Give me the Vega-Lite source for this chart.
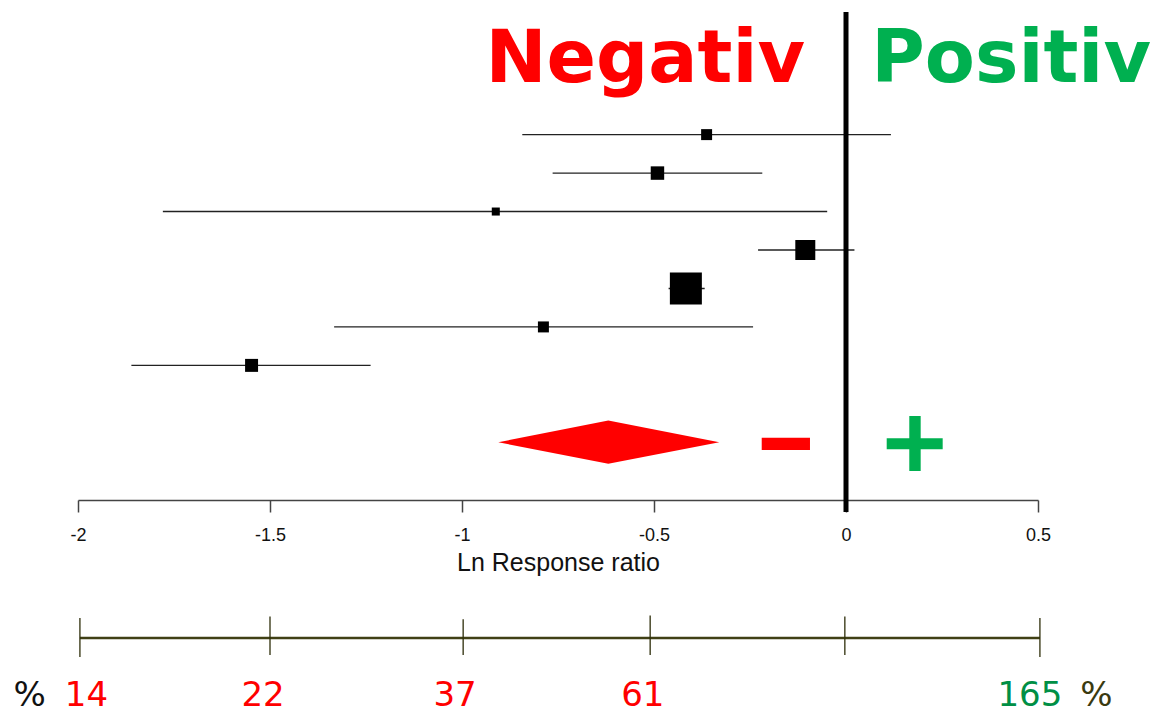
{
  "$schema": "https://vega.github.io/schema/vega-lite/v6.json",
  "autosize": "none",
  "width": 960,
  "height": 500,
  "padding": {"left": 78, "top": 0, "right": 125, "bottom": 221},
  "background": "white",
  "config": {
    "view": {"stroke": null},
    "axisX": {
      "domainColor": "#444444", "domainWidth": 1.5, "tickColor": "#444444", "tickWidth": 1.5,
      "tickSize": 12, "grid": false, "labelFont": "Liberation Sans", "labelFontSize": 18,
      "labelColor": "#111111", "labelPadding": 14, "labelFlush": false, "labelOverlap": false,
      "titleFont": "Liberation Sans", "titleFontSize": 25, "titleFontWeight": "normal",
      "titleColor": "#111111", "titleBaseline": "alphabetic", "titleY": 70
    }
  },
  "resolve": {"scale": {"color": "independent"}},
  "datasets": {
    "studies": [
      {"study": 1, "lnrr": -0.363, "lo": -0.843, "hi": 0.117, "weight": 5.8},
      {"study": 2, "lnrr": -0.491, "lo": -0.764, "hi": -0.218, "weight": 8.7},
      {"study": 3, "lnrr": -0.912, "lo": -1.779, "hi": -0.049, "weight": 3.1},
      {"study": 4, "lnrr": -0.106, "lo": -0.229, "hi": 0.022, "weight": 19.2},
      {"study": 5, "lnrr": -0.417, "lo": -0.462, "hi": -0.368, "weight": 49.2},
      {"study": 6, "lnrr": -0.788, "lo": -1.333, "hi": -0.242, "weight": 5.8},
      {"study": 7, "lnrr": -1.548, "lo": -1.861, "hi": -1.238, "weight": 8.1}
    ],
    "summary": [
      {"lnrr": -0.9055, "ylo": 9, "yhi": 9},
      {"lnrr": -0.619, "ylo": 8.43, "yhi": 9.56},
      {"lnrr": -0.33, "ylo": 9, "yhi": 9}
    ],
    "nullline": [{"lnrr": 0, "ytop": -2.188, "ybot": 10.812}],
    "signs": [
      {"sign": "minus", "x1": -0.2195, "x2": -0.0938, "y1": 8.88, "y2": 9.2},
      {"sign": "plus", "x1": 0.106, "x2": 0.2518, "y1": 8.896, "y2": 9.182},
      {"sign": "plus", "x1": 0.1648, "x2": 0.1945, "y1": 8.316, "y2": 9.746}
    ],
    "headings": [
      {"label": "Negativ", "side": "neg", "x": -0.939, "row": -0.368},
      {"label": "Positiv", "side": "pos", "x": 0.066, "row": -0.368}
    ],
    "pctline": [{"x1": -1.995, "x2": 0.505, "row": 14.09}],
    "pctticks": [
      {"x": -1.995, "top": 13.57, "bot": 14.58},
      {"x": -1.5, "top": 13.53, "bot": 14.53},
      {"x": -0.997, "top": 13.6, "bot": 14.53},
      {"x": -0.51, "top": 13.5, "bot": 14.53},
      {"x": -0.003, "top": 13.53, "bot": 14.53},
      {"x": 0.505, "top": 13.57, "bot": 14.58}
    ],
    "pctlabels": [
      {"label": "%", "kind": "unitL", "x": -2.126, "row": 15.85},
      {"label": "14", "kind": "neg", "x": -1.978, "row": 15.85},
      {"label": "22", "kind": "neg", "x": -1.518, "row": 15.85},
      {"label": "37", "kind": "neg", "x": -1.018, "row": 15.85},
      {"label": "61", "kind": "neg", "x": -0.529, "row": 15.85},
      {"label": "165", "kind": "pos", "x": 0.479, "row": 15.85},
      {"label": "%", "kind": "unitR", "x": 0.652, "row": 15.85}
    ]
  },
  "layer": [
    {
      "data": {"name": "studies"},
      "mark": {"type": "rule", "color": "#222222", "strokeWidth": 1.4},
      "encoding": {
        "x": {"field": "lo", "type": "quantitative", "title": "Ln Response ratio",
              "scale": {"domain": [-2, 0.5], "nice": false, "zero": false},
              "axis": {"values": [-2, -1.5, -1, -0.5, 0, 0.5], "labelExpr": "toString(datum.value)"}},
        "x2": {"field": "hi"},
        "y": {"field": "study", "type": "quantitative", "axis": null,
              "scale": {"domain": [-2.5, 10.5], "reverse": true, "nice": false, "zero": false}}
      }
    },
    {
      "data": {"name": "studies"},
      "mark": {"type": "point", "shape": "square", "filled": true, "color": "black", "opacity": 1, "strokeWidth": 0},
      "encoding": {
        "x": {"field": "lnrr", "type": "quantitative", "title": "Ln Response ratio"},
        "y": {"field": "study", "type": "quantitative", "axis": null},
        "size": {"field": "weight", "type": "quantitative", "legend": null,
                 "scale": {"domain": [0, 100], "range": [0, 2081]}}
      }
    },
    {
      "data": {"name": "summary"},
      "mark": {"type": "area", "orient": "vertical", "color": "#FF0000", "opacity": 1},
      "encoding": {
        "x": {"field": "lnrr", "type": "quantitative", "title": "Ln Response ratio"},
        "y": {"field": "ylo", "type": "quantitative", "axis": null},
        "y2": {"field": "yhi"}
      }
    },
    {
      "data": {"name": "nullline"},
      "mark": {"type": "rule", "color": "black", "strokeWidth": 5},
      "encoding": {
        "x": {"field": "lnrr", "type": "quantitative", "title": "Ln Response ratio"},
        "y": {"field": "ytop", "type": "quantitative", "axis": null},
        "y2": {"field": "ybot"}
      }
    },
    {
      "data": {"name": "signs"},
      "mark": {"type": "rect", "opacity": 1},
      "encoding": {
        "x": {"field": "x1", "type": "quantitative", "title": "Ln Response ratio"},
        "x2": {"field": "x2"},
        "y": {"field": "y1", "type": "quantitative", "axis": null},
        "y2": {"field": "y2"},
        "color": {"field": "sign", "type": "nominal", "legend": null,
                  "scale": {"domain": ["minus", "plus"], "range": ["#FF0000", "#00B050"]}}
      }
    },
    {
      "data": {"name": "headings"},
      "mark": {"type": "text", "align": "left", "baseline": "alphabetic", "font": "DejaVu Sans", "fontWeight": "bold", "fontSize": 73},
      "encoding": {
        "x": {"field": "x", "type": "quantitative", "title": "Ln Response ratio"},
        "y": {"field": "row", "type": "quantitative", "axis": null},
        "text": {"field": "label"},
        "color": {"field": "side", "type": "nominal", "legend": null,
                  "scale": {"domain": ["neg", "pos"], "range": ["#FF0000", "#00B050"]}}
      }
    },
    {
      "data": {"name": "pctline"},
      "mark": {"type": "rule", "color": "#404015", "strokeWidth": 2.5},
      "encoding": {
        "x": {"field": "x1", "type": "quantitative", "title": "Ln Response ratio"},
        "x2": {"field": "x2"},
        "y": {"field": "row", "type": "quantitative", "axis": null}
      }
    },
    {
      "data": {"name": "pctticks"},
      "mark": {"type": "rule", "color": "#2e2e0a", "strokeWidth": 1.3},
      "encoding": {
        "x": {"field": "x", "type": "quantitative", "title": "Ln Response ratio"},
        "y": {"field": "top", "type": "quantitative", "axis": null},
        "y2": {"field": "bot"}
      }
    },
    {
      "data": {"name": "pctlabels"},
      "mark": {"type": "text", "align": "center", "baseline": "alphabetic", "font": "DejaVu Sans", "fontSize": 34},
      "encoding": {
        "x": {"field": "x", "type": "quantitative", "title": "Ln Response ratio"},
        "y": {"field": "row", "type": "quantitative", "axis": null},
        "text": {"field": "label"},
        "color": {"field": "kind", "type": "nominal", "legend": null,
                  "scale": {"domain": ["neg", "pos", "unitL", "unitR"], "range": ["#FF0000", "#008F45", "#111111", "#3a3a10"]}}
      }
    }
  ]
}
